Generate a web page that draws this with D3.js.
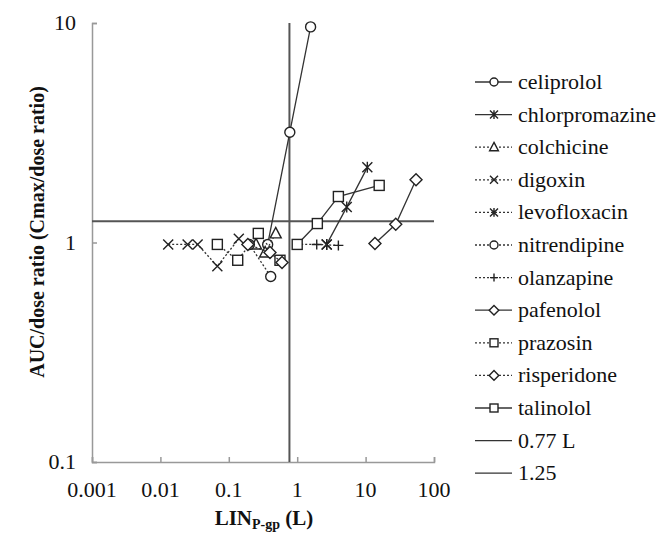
<!DOCTYPE html>
<html>
<head>
<meta charset="utf-8">
<script src="https://cdn.jsdelivr.net/npm/d3@7"></script>
<style>
  body { margin: 0; background: #fff; }
</style>
</head>
<body>
<div id="chart"></div>
<script>
// series data (LIN, AUC ratio)
var names = ["celiprolol", "chlorpromazine", "colchicine", "digoxin", "levofloxacin",
             "nitrendipine", "olanzapine", "pafenolol", "prazosin", "risperidone", "talinolol"];
var symbols = ["circle", "star", "triangle", "cross", "star", "circle", "plus",
               "diamond", "square", "diamond", "square"];
var dashed = [false, false, true, true, true, true, true, false, true, true, false];

var celiprololX = [0.37, 0.78, 1.57],            celiprololY = [0.98, 3.18, 9.6];
var chlorpromazineX = [2.7, 5.3, 10.6],          chlorpromazineY = [0.98, 1.45, 2.2];
var colchicineX = [0.25, 0.34, 0.485],           colchicineY = [0.98, 0.9, 1.1];
var digoxinX = [0.013, 0.025, 0.035, 0.068, 0.14], digoxinY = [0.98, 0.98, 0.98, 0.78, 1.04];
var levofloxacinX = [2.7],                       levofloxacinY = [0.98];
var nitrendipineX = [0.2, 0.41],                 nitrendipineY = [0.98, 0.7];
var olanzapineX = [1.0, 1.93, 4.0],              olanzapineY = [0.98, 0.98, 0.97];
var pafenololX = [13.7, 27.6, 54.6],             pafenololY = [0.99, 1.21, 1.93];
var prazosinX = [0.068, 0.135, 0.27, 0.56],      prazosinY = [0.98, 0.83, 1.1, 0.83];
var risperidoneX = [0.19, 0.4, 0.6],             risperidoneY = [0.98, 0.9, 0.81];
var talinololX = [1.0, 1.97, 4.0, 15.8],         talinololY = [0.98, 1.22, 1.62, 1.82];

var xs = [celiprololX, chlorpromazineX, colchicineX, digoxinX, levofloxacinX, nitrendipineX,
          olanzapineX, pafenololX, prazosinX, risperidoneX, talinololX];
var ys = [celiprololY, chlorpromazineY, colchicineY, digoxinY, levofloxacinY, nitrendipineY,
          olanzapineY, pafenololY, prazosinY, risperidoneY, talinololY];

var xTicks = [0.001, 0.01, 0.1, 1, 10, 100];
var yTicks = [0.1, 1, 10];
var refX = 0.77, refY = 1.25;

var W = 657, H = 533;
var svg = d3.select("#chart").append("svg")
    .attr("width", W)
    .attr("height", H)
    .attr("font-family", "'Liberation Serif', 'Times New Roman', Times, 'DejaVu Serif', serif");

var x = d3.scaleLog().domain([0.001, 100]).range([92, 434]);
var y = d3.scaleLog().domain([0.1, 10]).range([462, 23]);

// axes
svg.append("g")
    .attr("transform", "translate(0,462)")
    .call(d3.axisTop(x).tickValues(xTicks).tickSize(5).tickFormat(""))
    .call(function(g) { g.selectAll("path,line").attr("stroke", "#999").attr("stroke-width", 1.5); });
svg.append("g")
    .attr("transform", "translate(92,0)")
    .call(d3.axisRight(y).tickValues(yTicks).tickSize(5).tickFormat(""))
    .call(function(g) { g.selectAll("path,line").attr("stroke", "#999").attr("stroke-width", 1.5); });

svg.selectAll(".xlab").data(xTicks).enter().append("text")
    .attr("x", function(d) { return x(d); })
    .attr("y", 497)
    .attr("font-size", "22px")
    .attr("fill", "#111")
    .attr("text-anchor", "middle")
    .text(function(d) { return d; });
svg.selectAll(".ylab").data(yTicks).enter().append("text")
    .attr("x", 76)
    .attr("y", function(d) { return y(d) + 7; })
    .attr("font-size", "22px")
    .attr("fill", "#111")
    .attr("text-anchor", "end")
    .text(function(d) { return d; });

// axis titles
var xt = svg.append("text")
    .attr("x", 264)
    .attr("y", 525)
    .attr("font-size", "21px")
    .attr("font-weight", "bold")
    .attr("fill", "#111")
    .attr("text-anchor", "middle");
xt.append("tspan").text("LIN");
xt.append("tspan").attr("font-size", "14px").attr("dy", 4).text("P-gp");
xt.append("tspan").attr("dy", -4).text(" (L)");

svg.append("text")
    .attr("transform", "translate(44,232) rotate(-90)")
    .attr("font-size", "20px")
    .attr("font-weight", "bold")
    .attr("fill", "#111")
    .attr("text-anchor", "middle")
    .text("AUC/dose ratio (Cmax/dose ratio)");

// reference lines
svg.append("line")
    .attr("x1", x(refX)).attr("x2", x(refX))
    .attr("y1", y(10)).attr("y2", y(0.1))
    .attr("stroke", "#555").attr("stroke-width", 2);
svg.append("line")
    .attr("x1", x(0.001)).attr("x2", x(100))
    .attr("y1", y(refY)).attr("y2", y(refY))
    .attr("stroke", "#555").attr("stroke-width", 2);

function marker(g, sym, s) {
  var p;
  if (sym === "circle") {
    g.append("circle").attr("r", s).attr("fill", "#fff").attr("stroke", "#222").attr("stroke-width", 1.4);
  } else if (sym === "square") {
    g.append("rect").attr("x", -s).attr("y", -s).attr("width", 2 * s).attr("height", 2 * s)
      .attr("fill", "#fff").attr("stroke", "#222").attr("stroke-width", 1.4);
  } else if (sym === "diamond") {
    p = [[0, -s * 1.2], [s * 1.2, 0], [0, s * 1.2], [-s * 1.2, 0]];
    g.append("polygon").attr("points", p.join(" ")).attr("fill", "#fff").attr("stroke", "#222").attr("stroke-width", 1.4);
  } else if (sym === "triangle") {
    p = [[0, -s * 1.2], [s * 1.1, s * 0.9], [-s * 1.1, s * 0.9]];
    g.append("polygon").attr("points", p.join(" ")).attr("fill", "#fff").attr("stroke", "#222").attr("stroke-width", 1.4);
  } else if (sym === "cross") {
    g.append("path").attr("d", "M" + (-s) + "," + (-s) + "L" + s + "," + s + "M" + (-s) + "," + s + "L" + s + "," + (-s))
      .attr("stroke", "#222").attr("stroke-width", 1.4);
  } else if (sym === "star") {
    g.append("path").attr("d", "M" + (-s) + "," + (-s) + "L" + s + "," + s + "M" + (-s) + "," + s + "L" + s + "," + (-s) +
      "M0," + (-s * 1.1) + "L0," + (s * 1.1))
      .attr("stroke", "#222").attr("stroke-width", 1.4);
  } else if (sym === "plus") {
    g.append("path").attr("d", "M" + (-s) + ",0L" + s + ",0M0," + (-s) + "L0," + s)
      .attr("stroke", "#222").attr("stroke-width", 1.4);
  }
}

var line = d3.line()
    .x(function(d) { return x(d[0]); })
    .y(function(d) { return y(d[1]); });

names.forEach(function(n, i) {
  var pts = d3.zip(xs[i], ys[i]);
  svg.append("path")
      .datum(pts)
      .attr("d", line)
      .attr("fill", "none")
      .attr("stroke", "#333")
      .attr("stroke-width", 1.3)
      .attr("stroke-dasharray", dashed[i] ? "2,2" : null);
  pts.forEach(function(p) {
    var g = svg.append("g").attr("transform", "translate(" + x(p[0]) + "," + y(p[1]) + ")");
    marker(g, symbols[i], 5);
  });
});

// legend
var legNames = names.concat(["0.77 L", "1.25"]);
legNames.forEach(function(n, i) {
  var ly = 82 + i * 32.6;
  var g = svg.append("g").attr("transform", "translate(0," + ly + ")");
  var isDash = i < names.length ? dashed[i] : false;
  g.append("line")
      .attr("x1", 475).attr("x2", 512)
      .attr("y1", 0).attr("y2", 0)
      .attr("stroke", "#333").attr("stroke-width", 1.3)
      .attr("stroke-dasharray", isDash ? "2,2" : null);
  if (i < names.length) {
    var mg = g.append("g").attr("transform", "translate(494,0)");
    marker(mg, symbols[i], 4);
  }
  g.append("text")
      .attr("x", 518)
      .attr("y", 7)
      .attr("font-size", "22px")
      .attr("fill", "#111")
      .text(n);
});
</script>
</body>
</html>
